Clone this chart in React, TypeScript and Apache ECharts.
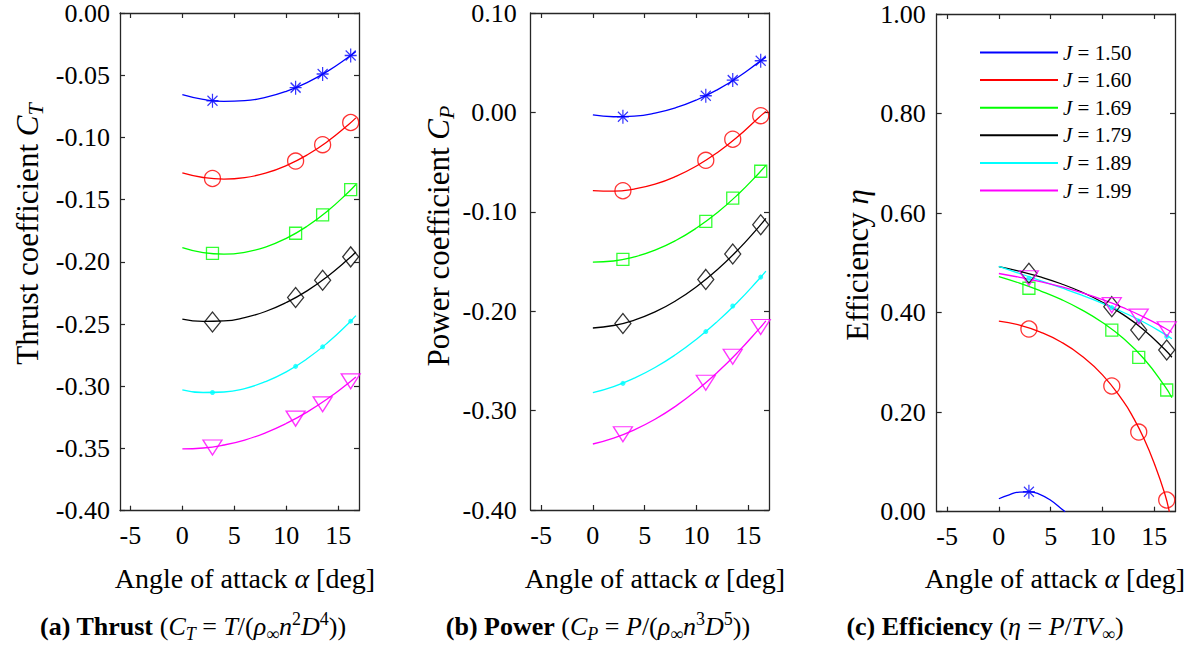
import React, { useEffect, useRef } from 'react';
import * as echarts from 'echarts';

const FONT = '"Liberation Serif", "Times New Roman", serif';

// ---------- data ----------
const J_VALUES = ['1.50', '1.60', '1.69', '1.79', '1.89', '1.99'];
const COLORS = ['#0000ff', '#ff0000', '#00ff00', '#000000', '#00ffff', '#ff00ff'];
const X_TICKS = [-5, 0, 5, 10, 15];

const MARKER_ALPHA = [2.9, 10.9, 13.5, 16.2];
const CURVE_ALPHA = [0, 2, 4, 6, 8, 10, 12, 14, 16, 16.7];

// (a) thrust coefficient
const CT_MARKERS = [
  [-0.0705, -0.06, -0.049, -0.0341],
  [-0.133, -0.119, -0.1058, -0.088],
  [-0.1932, -0.177, -0.1622, -0.142],
  [-0.2483, -0.2287, -0.2148, -0.196],
  [-0.305, -0.284, -0.2683, -0.2477],
  [-0.3492, -0.326, -0.3145, -0.296],
];
const CT_CURVES = [
  [-0.0656, -0.0694, -0.071, -0.0705, -0.0678, -0.0629, -0.0559, -0.0467, -0.0354, -0.0309],
  [-0.1285, -0.1322, -0.1335, -0.1323, -0.1287, -0.1226, -0.1141, -0.1031, -0.0896, -0.0843],
  [-0.1886, -0.1926, -0.1938, -0.1923, -0.1881, -0.1811, -0.1714, -0.159, -0.1438, -0.1378],
  [-0.246, -0.2479, -0.2475, -0.2448, -0.2399, -0.2327, -0.2233, -0.2115, -0.1976, -0.1921],
  [-0.3028, -0.305, -0.3046, -0.3018, -0.2963, -0.2884, -0.2779, -0.2648, -0.2493, -0.2432],
  [-0.3503, -0.3496, -0.3472, -0.3432, -0.3374, -0.3299, -0.3208, -0.3099, -0.2973, -0.2926],
];

// (b) power coefficient
const CP_MARKERS = [
  [-0.0043, 0.0168, 0.0325, 0.0519],
  [-0.0788, -0.0482, -0.027, -0.0033],
  [-0.1478, -0.1097, -0.0862, -0.0592],
  [-0.2124, -0.168, -0.1425, -0.113],
  [-0.2726, -0.2205, -0.1948, -0.1657],
  [-0.3238, -0.272, -0.2458, -0.2159],
];
const CP_CURVES = [
  [-0.0026, -0.0044, -0.0037, -0.0007, 0.0047, 0.0125, 0.0227, 0.0353, 0.0503, 0.0556],
  [-0.0786, -0.0793, -0.0771, -0.0722, -0.0644, -0.0539, -0.0405, -0.0243, -0.0053, 0.001],
  [-0.1506, -0.1495, -0.1454, -0.1386, -0.1289, -0.1163, -0.1009, -0.0826, -0.0614, -0.0533],
  [-0.2169, -0.2144, -0.209, -0.2007, -0.1895, -0.1753, -0.1583, -0.1383, -0.1154, -0.1067],
  [-0.282, -0.2759, -0.2674, -0.2567, -0.2436, -0.2282, -0.2105, -0.1905, -0.1681, -0.1597],
  [-0.3336, -0.3277, -0.3194, -0.3087, -0.2955, -0.2798, -0.2617, -0.2412, -0.2183, -0.2097],
];

// (c) efficiency
const ETA_MARKERS = [
  [0.04, null, null, null],
  [0.367, 0.2526, 0.16, 0.0235],
  [0.449, 0.365, 0.31, 0.2445],
  [0.479, 0.412, 0.365, 0.325],
  [0.469, 0.41, 0.383, 0.352],
  [0.469, 0.415, 0.392, 0.3665],
];
const ETA_ALPHA_J150 = [0, 1, 2, 3, 4, 5, 6, 6.4];
const ETA_ALPHA_J160 = [0, 2, 4, 6, 8, 10, 12, 13, 14, 15, 16, 16.45];
const ETA_CURVE_ALPHA = [ETA_ALPHA_J150, ETA_ALPHA_J160, CURVE_ALPHA, CURVE_ALPHA, CURVE_ALPHA, CURVE_ALPHA];
const ETA_CURVES = [
  [0.026, 0.034, 0.0395, 0.04, 0.0345, 0.023, 0.0066, 0.0],
  [0.383, 0.375, 0.361, 0.341, 0.313, 0.275, 0.222, 0.188, 0.147, 0.097, 0.037, 0.0],
  [0.4725, 0.4593, 0.4439, 0.4265, 0.4055, 0.38, 0.3483, 0.3074, 0.2527, 0.2289],
  [0.4926, 0.4832, 0.4718, 0.458, 0.4413, 0.4209, 0.396, 0.3653, 0.3263, 0.3103],
  [0.4928, 0.4786, 0.4645, 0.45, 0.435, 0.4187, 0.4008, 0.3806, 0.3568, 0.3474],
  [0.4786, 0.471, 0.4623, 0.452, 0.4401, 0.4262, 0.4099, 0.3911, 0.369, 0.3601],
];

// ---------- styles ----------
const MARKER_STYLES = [
  { symbol: 'path://M6,0L6,14M0,7L12,7M1,2L11,12M1,12L11,2', size: [12, 14], rotate: 0, filled: false },
  { symbol: 'circle', size: 16, rotate: 0, filled: false },
  { symbol: 'rect', size: 12, rotate: 0, filled: false },
  { symbol: 'diamond', size: [16, 20], rotate: 0, filled: false },
  { symbol: 'circle', size: 5, rotate: 0, filled: true },
  { symbol: 'triangle', size: [19, 15], rotate: 180, filled: false },
];

const AXIS_COLOR = '#262626';
const TICK_FONT = 26;
const NAME_FONT = 28;
const YNAME_FONT = 31;
const CAPTION_FONT = 26;

const PANELS = [
  { grid: { left: 120, top: 12.5, width: 239, height: 498.2 }, yMin: -0.4, yMax: 0, yInterval: 0.05, labelMargin: 10 },
  { grid: { left: 530.7, top: 12.3, width: 238.3, height: 497.7 }, yMin: -0.4, yMax: 0.1, yInterval: 0.1, labelMargin: 14 },
  { grid: { left: 936.7, top: 14, width: 238.3, height: 497.7 }, yMin: 0, yMax: 1, yInterval: 0.2, labelMargin: 11 },
];

function richStyles(size: number) {
  const base = { fontFamily: FONT, fontSize: size, color: '#000', lineHeight: Math.round(size * 1.25), verticalAlign: 'middle' };
  const small = Math.round(size * 0.7);
  return {
    n: { ...base },
    b: { ...base, fontWeight: 'bold' },
    i: { ...base, fontStyle: 'italic' },
    sub: { fontFamily: FONT, color: '#000', fontStyle: 'italic', fontSize: small, lineHeight: Math.round(size * 0.45), verticalAlign: 'bottom' },
    subn: { fontFamily: FONT, color: '#000', fontSize: small, lineHeight: Math.round(size * 0.45), verticalAlign: 'bottom' },
    sup: { fontFamily: FONT, color: '#000', fontSize: small, lineHeight: small, verticalAlign: 'top' },
  };
}

function textEl(x: number, y: number, text: string, size: number, rotation = 0) {
  return {
    type: 'text',
    x,
    y,
    rotation,
    silent: true,
    style: {
      text,
      rich: richStyles(size),
      fontFamily: FONT,
      fontSize: size,
      fill: '#000',
      align: 'center',
      verticalAlign: 'middle',
      textAlign: 'center',
      textVerticalAlign: 'middle',
    },
  };
}

function buildOption() {
  const xAxis: any[] = [];
  const yAxis: any[] = [];
  const grid: any[] = [];
  PANELS.forEach((p, i) => {
    grid.push({ ...p.grid, containLabel: false });
    const xBase = {
      type: 'value',
      gridIndex: i,
      min: -6,
      max: 17,
      splitLine: { show: false },
      axisLine: { show: true, onZero: false, lineStyle: { color: AXIS_COLOR, width: 1.3 } },
      axisTick: { show: true, inside: true, length: 5, customValues: X_TICKS, lineStyle: { color: AXIS_COLOR, width: 1.2 } },
    };
    xAxis.push({
      ...xBase,
      position: 'bottom',
      axisLabel: { show: true, customValues: X_TICKS, margin: 12, fontFamily: FONT, fontSize: TICK_FONT, color: '#000' },
    });
    xAxis.push({ ...xBase, position: 'top', axisLabel: { show: false } });
    const yBase = {
      type: 'value',
      gridIndex: i,
      min: p.yMin,
      max: p.yMax,
      interval: p.yInterval,
      splitLine: { show: false },
      axisLine: { show: true, onZero: false, lineStyle: { color: AXIS_COLOR, width: 1.3 } },
      axisTick: { show: true, inside: true, length: 5, lineStyle: { color: AXIS_COLOR, width: 1.2 } },
    };
    yAxis.push({
      ...yBase,
      position: 'left',
      axisLabel: {
        show: true,
        margin: p.labelMargin,
        fontFamily: FONT,
        fontSize: TICK_FONT,
        color: '#000',
        formatter: (v: number) => (Math.abs(v) < 1e-9 ? 0 : v).toFixed(2),
      },
    });
    yAxis.push({ ...yBase, position: 'right', axisLabel: { show: false } });
  });

  const series: any[] = [];
  const panelData = [
    { curveAlpha: [CURVE_ALPHA, CURVE_ALPHA, CURVE_ALPHA, CURVE_ALPHA, CURVE_ALPHA, CURVE_ALPHA], curves: CT_CURVES, markers: CT_MARKERS },
    { curveAlpha: [CURVE_ALPHA, CURVE_ALPHA, CURVE_ALPHA, CURVE_ALPHA, CURVE_ALPHA, CURVE_ALPHA], curves: CP_CURVES, markers: CP_MARKERS },
    { curveAlpha: ETA_CURVE_ALPHA, curves: ETA_CURVES, markers: ETA_MARKERS },
  ];
  panelData.forEach((pd, p) => {
    J_VALUES.forEach((j, k) => {
      const color = COLORS[k];
      series.push({
        type: 'line',
        name: `J = ${j}`,
        xAxisIndex: 2 * p,
        yAxisIndex: 2 * p,
        data: pd.curveAlpha[k].map((a, idx) => [a, pd.curves[k][idx]]),
        symbol: 'none',
        showSymbol: false,
        smooth: 0.5,
        clip: true,
        silent: true,
        lineStyle: { color, width: 1.3 },
        itemStyle: { color },
        z: 2,
      });
      const ms = MARKER_STYLES[k];
      series.push({
        type: 'scatter',
        name: `markers ${j}`,
        xAxisIndex: 2 * p,
        yAxisIndex: 2 * p,
        data: MARKER_ALPHA.map((a, idx) => [a, pd.markers[k][idx]]).filter((d) => d[1] !== null),
        symbol: ms.symbol,
        symbolSize: ms.size,
        symbolRotate: ms.rotate,
        silent: true,
        clip: true,
        itemStyle: ms.filled
          ? { color }
          : { color: 'none', borderColor: color, borderWidth: 1.3 },
        z: 3,
      });
    });
  });

  const graphic = [
    textEl(245, 578, '{n|Angle of attack }{i|α}{n| [deg]}', NAME_FONT),
    textEl(655, 578, '{n|Angle of attack }{i|α}{n| [deg]}', NAME_FONT),
    textEl(1055, 578, '{n|Angle of attack }{i|α}{n| [deg]}', NAME_FONT),
    textEl(27, 234, '{n|Thrust coefficient }{i|C}{sub|T}', YNAME_FONT, Math.PI / 2),
    textEl(438, 236, '{n|Power coefficient }{i|C}{sub|P}', YNAME_FONT, Math.PI / 2),
    textEl(857, 265, '{n|Efficiency }{i|η}', YNAME_FONT, Math.PI / 2),
    textEl(193, 626, '{b|(a) Thrust}{n| (}{i|C}{sub|T}{n| = }{i|T}{n|/(}{i|ρ}{subn|∞}{i|n}{sup|2}{i|D}{sup|4}{n|))}', CAPTION_FONT),
    textEl(598, 626, '{b|(b) Power}{n| (}{i|C}{sub|P}{n| = }{i|P}{n|/(}{i|ρ}{subn|∞}{i|n}{sup|3}{i|D}{sup|5}{n|))}', CAPTION_FONT),
    textEl(985, 626, '{b|(c) Efficiency}{n| (}{i|η}{n| = }{i|P}{n|/}{i|TV}{subn|∞}{n|)}', CAPTION_FONT),
  ];

  return {
    animation: false,
    backgroundColor: '#ffffff',
    grid,
    xAxis,
    yAxis,
    series,
    graphic,
    legend: {
      data: J_VALUES.map((j) => `J = ${j}`),
      orient: 'vertical',
      left: 979,
      top: 42,
      padding: 0,
      itemWidth: 78,
      itemHeight: 14,
      itemGap: 6.6,
      selectedMode: false,
      itemStyle: { color: 'rgba(0,0,0,0)', opacity: 0, borderWidth: 0 },
      formatter: (name: string) => `{i|J}{n| = ${name.slice(4)}}`,
      textStyle: {
        fontFamily: FONT,
        fontSize: 21,
        color: '#000',
        lineHeight: 20,
        rich: {
          i: { fontFamily: FONT, fontSize: 21, fontStyle: 'italic', color: '#000', lineHeight: 20 },
          n: { fontFamily: FONT, fontSize: 21, color: '#000', lineHeight: 20 },
        },
      },
    },
  };
}

export default function App() {
  const ref = useRef<HTMLDivElement>(null);
  useEffect(() => {
    if (!ref.current) return;
    const chart = echarts.init(ref.current, null, { renderer: 'svg' });
    chart.setOption(buildOption() as any);
    return () => {
      chart.dispose();
    };
  }, []);
  return (
    <div
      ref={ref}
      style={{ position: 'fixed', left: 0, top: 0, width: 1186, height: 647, background: '#fff' }}
    />
  );
}
